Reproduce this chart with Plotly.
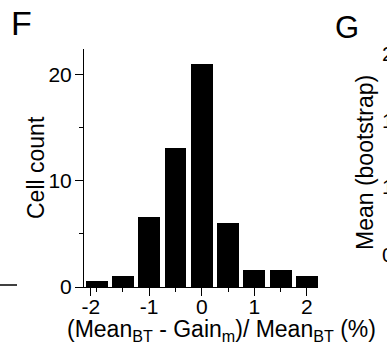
import plotly.graph_objects as go

# Data
bin_centers = [-2.0, -1.5, -1.0, -0.5, 0.0, 0.5, 1.0, 1.5, 2.0]
cell_counts = [0.57, 1.04, 6.58, 13.06, 21.0, 6.04, 1.57, 1.57, 1.04]
x_tick_vals = [-2.11, -1, 0, 1, 2]
x_tick_text = ["-2", "-1", "0", "1", "2"]
y_tick_vals = [0, 10, 20]
g_tick_labels = ["2.0", "1.5", "1.0", "0.5"]

FONT = "Liberation Sans, Arial, sans-serif"

fig = go.Figure()
fig.add_trace(go.Bar(
    x=bin_centers, y=cell_counts, width=0.417,
    marker=dict(color="black", line=dict(width=0)),
    showlegend=False,
))

W, H = 387, 349
L, R, T, B = 84, 69, 49, 62
pw, ph = W - L - R, H - T - B

def px(xp):
    return (xp - L) / pw

def py(yp):
    return (H - B - yp) / ph

fig.update_layout(
    width=W, height=H,
    margin=dict(l=L, r=R, t=T, b=B, pad=0),
    paper_bgcolor="white", plot_bgcolor="white",
    font=dict(family=FONT, color="black", size=21),
    bargap=0,
    xaxis=dict(
        range=[-2.24, 2.21], showline=True, linecolor="black", linewidth=1,
        tickmode="array", tickvals=x_tick_vals, ticktext=x_tick_text,
        ticks="outside", ticklen=8, tickwidth=1, tickcolor="black",
        minor=dict(dtick=0.5, tick0=0, ticks="outside", ticklen=4, tickcolor="black"),
        showgrid=False, zeroline=False, tickfont=dict(size=21),
        ticklabelstandoff=-7,
    ),
    yaxis=dict(
        range=[0, 22.4], showline=True, linecolor="black", linewidth=1,
        tickmode="array", tickvals=y_tick_vals,
        ticks="outside", ticklen=8, tickwidth=1, tickcolor="black",
        minor=dict(dtick=5, tick0=0, ticks="outside", ticklen=4, tickcolor="black"),
        showgrid=False, zeroline=False, tickfont=dict(size=21),
        ticklabelstandoff=-1,
    ),
)

ann = []
ann.append(dict(text="(Mean<sub>BT</sub> - Gain<sub>m</sub>)/ Mean<sub>BT</sub> (%)",
                x=px(221), y=py(330), xref="paper", yref="paper",
                xanchor="center", yanchor="middle", showarrow=False,
                font=dict(size=23)))
ann.append(dict(text="Cell count", x=px(36), y=py(168), xref="paper", yref="paper",
                xanchor="center", yanchor="middle", textangle=-90, showarrow=False,
                font=dict(size=23)))
ann.append(dict(text="F", x=px(21), y=py(23), xref="paper", yref="paper",
                xanchor="center", yanchor="middle", showarrow=False, font=dict(size=34)))
ann.append(dict(text="G", x=px(346.5), y=py(27.5), xref="paper", yref="paper",
                xanchor="center", yanchor="middle", showarrow=False, font=dict(size=31)))
ann.append(dict(text="Mean (bootstrap)", x=px(365), y=py(163), xref="paper", yref="paper",
                xanchor="center", yanchor="middle", textangle=-90, showarrow=False,
                font=dict(size=23)))
for lab, yy in zip(g_tick_labels, [53, 120, 187, 254]):
    ann.append(dict(text=lab, x=px(380), y=py(yy), xref="paper", yref="paper",
                    xanchor="left", yanchor="middle", showarrow=False, font=dict(size=21)))
fig.update_layout(annotations=ann)

# stub of neighbouring panel's axis at left edge
fig.add_shape(type="line", xref="paper", yref="paper",
              x0=px(0), x1=px(17), y0=py(285), y1=py(285),
              line=dict(color="black", width=1.5))

fig.write_html("out.html", config={"displayModeBar": False},
               post_script="document.body.style.margin='0';document.body.style.overflow='hidden';")
